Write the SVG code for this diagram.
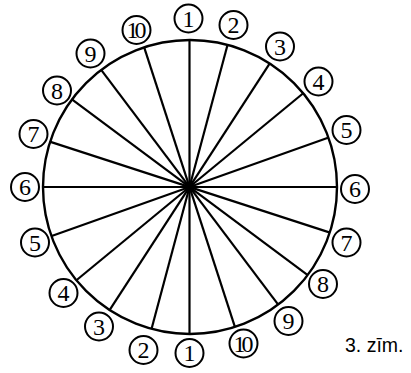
<svg xmlns="http://www.w3.org/2000/svg" width="411" height="373" viewBox="0 0 411 373">
<style>
.sp{stroke:#000;stroke-width:2.2;fill:none;stroke-linecap:butt}
.rim{stroke:#000;stroke-width:2.4;fill:none}
.lc{stroke:#000;stroke-width:2;fill:#fff}
.lt{font-family:"Liberation Serif","Times New Roman",serif;font-size:24px;fill:#000;text-anchor:middle}
.ten{letter-spacing:-4px;font-size:24px}
.cap{font-family:"Liberation Sans",Arial,sans-serif;font-size:19.5px;fill:#000}
</style>
<rect width="411" height="373" fill="#fff"/>
<g id="wheel">
<circle class="rim" cx="190" cy="187" r="147"/>
</g>
<g id="connectors">
<line class="sp" x1="189.5" y1="40" x2="189.5" y2="334"/>
<line class="sp" x1="227.5" y1="45" x2="151.5" y2="329"/>
<line class="sp" x1="269.6" y1="63.7" x2="109.4" y2="310.3"/>
<line class="sp" x1="302.9" y1="93.5" x2="76.1" y2="280.5"/>
<line class="sp" x1="328" y1="137.7" x2="51" y2="236.3"/>
<line class="sp" x1="337" y1="187" x2="43" y2="187"/>
<line class="sp" x1="329.3" y1="232.4" x2="49.7" y2="141.6"/>
<line class="sp" x1="307.4" y1="274.8" x2="71.6" y2="99.2"/>
<line class="sp" x1="278" y1="304.4" x2="101" y2="69.6"/>
<line class="sp" x1="234.9" y1="326.8" x2="144.1" y2="47.2"/>
<circle cx="189.5" cy="187" r="5" fill="#000"/>
</g>
<g id="n1t"><circle class="lc" cx="188.5" cy="18.5" r="14"/><text class="lt" x="188.5" y="26.5">1</text></g>
<g id="n2t"><circle class="lc" cx="233.5" cy="25" r="14"/><text class="lt" x="233.5" y="33">2</text></g>
<g id="n3t"><circle class="lc" cx="280" cy="46.5" r="14"/><text class="lt" x="280" y="54.5">3</text></g>
<g id="n4t"><circle class="lc" cx="318.5" cy="81.5" r="14"/><text class="lt" x="318.5" y="89.5">4</text></g>
<g id="n5t"><circle class="lc" cx="346.5" cy="130" r="14"/><text class="lt" x="346.5" y="138">5</text></g>
<g id="n6r"><circle class="lc" cx="355" cy="189" r="14"/><text class="lt" x="355" y="197">6</text></g>
<g id="n7r"><circle class="lc" cx="346.5" cy="242.5" r="14"/><text class="lt" x="346.5" y="250.5">7</text></g>
<g id="n8r"><circle class="lc" cx="323" cy="284" r="14"/><text class="lt" x="323" y="292">8</text></g>
<g id="n9r"><circle class="lc" cx="288.5" cy="321" r="14"/><text class="lt" x="288.5" y="329">9</text></g>
<g id="n10r"><circle class="lc" cx="243.5" cy="343.5" r="14"/><text class="lt ten" x="241.5" y="351.5">10</text></g>
<g id="n1b"><circle class="lc" cx="189.5" cy="353" r="14"/><text class="lt" x="189.5" y="361">1</text></g>
<g id="n2b"><circle class="lc" cx="143.5" cy="350" r="14"/><text class="lt" x="143.5" y="358">2</text></g>
<g id="n3b"><circle class="lc" cx="99" cy="326.5" r="14"/><text class="lt" x="99" y="334.5">3</text></g>
<g id="n4b"><circle class="lc" cx="63.5" cy="293" r="14"/><text class="lt" x="63.5" y="301">4</text></g>
<g id="n5b"><circle class="lc" cx="35" cy="242.5" r="14"/><text class="lt" x="35" y="250.5">5</text></g>
<g id="n6l"><circle class="lc" cx="25" cy="187" r="14"/><text class="lt" x="25" y="195">6</text></g>
<g id="n7l"><circle class="lc" cx="33.5" cy="134" r="14"/><text class="lt" x="33.5" y="142">7</text></g>
<g id="n8l"><circle class="lc" cx="57" cy="90.5" r="14"/><text class="lt" x="57" y="98.5">8</text></g>
<g id="n9l"><circle class="lc" cx="90.5" cy="53.5" r="14"/><text class="lt" x="90.5" y="61.5">9</text></g>
<g id="n10l"><circle class="lc" cx="136.5" cy="30" r="14"/><text class="lt ten" x="134.5" y="38">10</text></g>
<g id="caption"><text class="cap" x="345" y="352">3. zīm.</text></g>
</svg>
